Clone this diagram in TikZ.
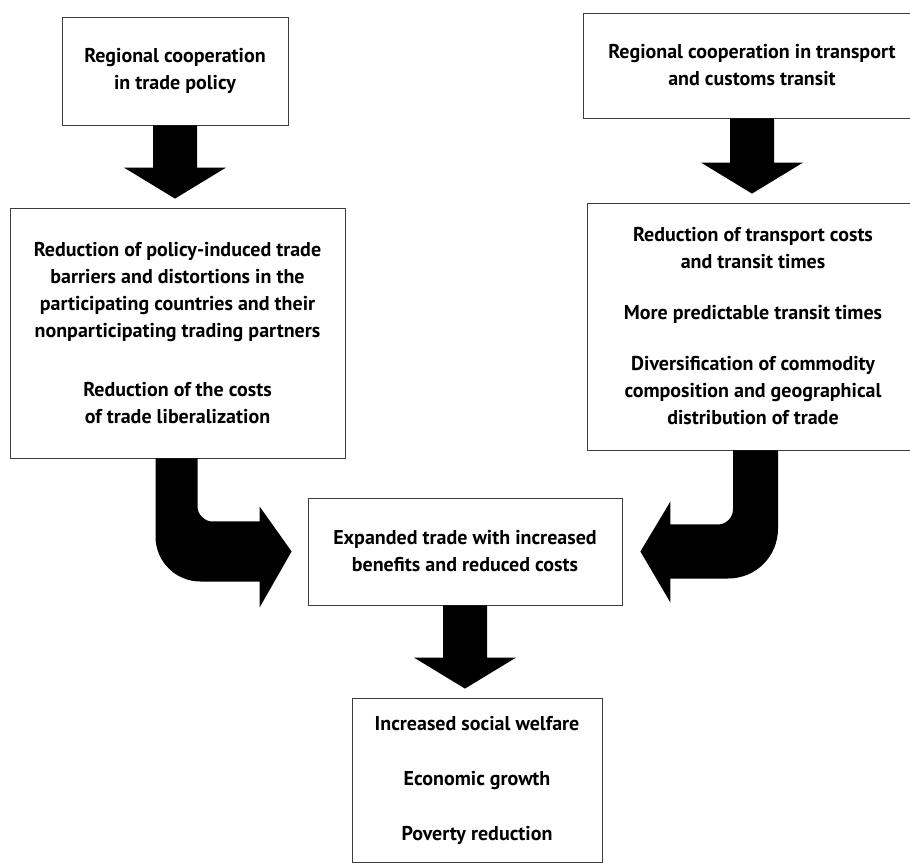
\documentclass[tikz,border=0pt]{standalone}
\usepackage{fontspec}
\setmainfont{PT Sans}
\usepackage{tikz}
\usetikzlibrary{calc}
\definecolor{boxline}{RGB}{60, 60, 60}

\begin{document}
\begin{tikzpicture}[
    x=1pt, y=1pt,
    box/.style={draw=boxline, line width=0.8pt, inner sep=0pt, align=center, font=\fontsize{20}{27}\selectfont\bfseries},
    blockarrow/.style={fill=black}
]
    \useasboundingbox (0,0) rectangle (910,863);
    \clip (0,0) rectangle (910,863);

    % Top boxes
    \node[box, minimum width=226pt, minimum height=108pt] (coopTrade) at (175,792) {Regional cooperation\\in trade policy};
    \node[box, minimum width=338pt, minimum height=105pt] (coopTransit) at (752,797.5) {Regional cooperation in transport\\and customs transit};

    % Middle boxes
    \node[box, minimum width=335pt, minimum height=250pt] (policyCut) at (177.5,530) {Reduction of policy-induced trade\\barriers and distortions in the\\participating countries and their\\nonparticipating trading partners\\[32pt]Reduction of the costs\\of trade liberalization};
    \node[box, minimum width=332pt, minimum height=247pt] (transitCut) at (753,536.5) {Reduction of transport costs\\and transit times\\[24pt]More predictable transit times\\[24pt]Diversification of commodity\\composition and geographical\\distribution of trade};

    % Result boxes
    \node[box, minimum width=314pt, minimum height=107pt] (expanded) at (465,311.5) {Expanded trade with increased\\benefits and reduced costs};
    \node[box, minimum width=250pt, minimum height=164pt] (welfare) at (477,83) {Increased social welfare\\[28pt]Economic growth\\[28pt]Poverty reduction};

    % Straight arrows
    \foreach \from/\to in {coopTrade/policyCut, coopTransit/transitCut, expanded/welfare}
        \fill[blockarrow] let \p1=(\from.south), \p2=(\to.north) in
            (\x1-22,\y1) -- (\x1-22,\y2+40) -- (\x1-51,\y2+40) -- (\x1,\y2+9)
            -- (\x1+51,\y2+40) -- (\x1+22,\y2+40) -- (\x1+22,\y1) -- cycle;

    % Bent arrows
    \fill[blockarrow] let \p1=(policyCut.south), \p2=(expanded.west) in
        (\x1-22,\y1) -- (\x1-22,\y2+15)
        .. controls (\x1-22,\y2-10) and (\x1-2,\y2-30) .. (\x1+23,\y2-30)
        -- (\x2-48,\y2-30) -- (\x2-48,\y2-56) -- (\x2-16,\y2) -- (\x2-48,\y2+45)
        -- (\x2-48,\y2+30) -- (\x1+35,\y2+30)
        .. controls (\x1+27,\y2+30) and (\x1+20,\y2+37) .. (\x1+20,\y2+45)
        -- (\x1+20,\y1) -- cycle;
    \fill[blockarrow] let \p1=(transitCut.south), \p2=(expanded.east) in
        (\x1+25,\y1) -- (\x1+25,\y2+23)
        .. controls (\x1+25,\y2-5) and (\x1+3,\y2-27) .. (\x1-25,\y2-27)
        -- (\x2+48,\y2-27) -- (\x2+48,\y2-51) -- (\x2+18,\y2) -- (\x2+48,\y2+50)
        -- (\x2+48,\y2+27) -- (\x1-35,\y2+27)
        .. controls (\x1-27,\y2+27) and (\x1-20,\y2+34) .. (\x1-20,\y2+42)
        -- (\x1-20,\y1) -- cycle;
\end{tikzpicture}
\end{document}
